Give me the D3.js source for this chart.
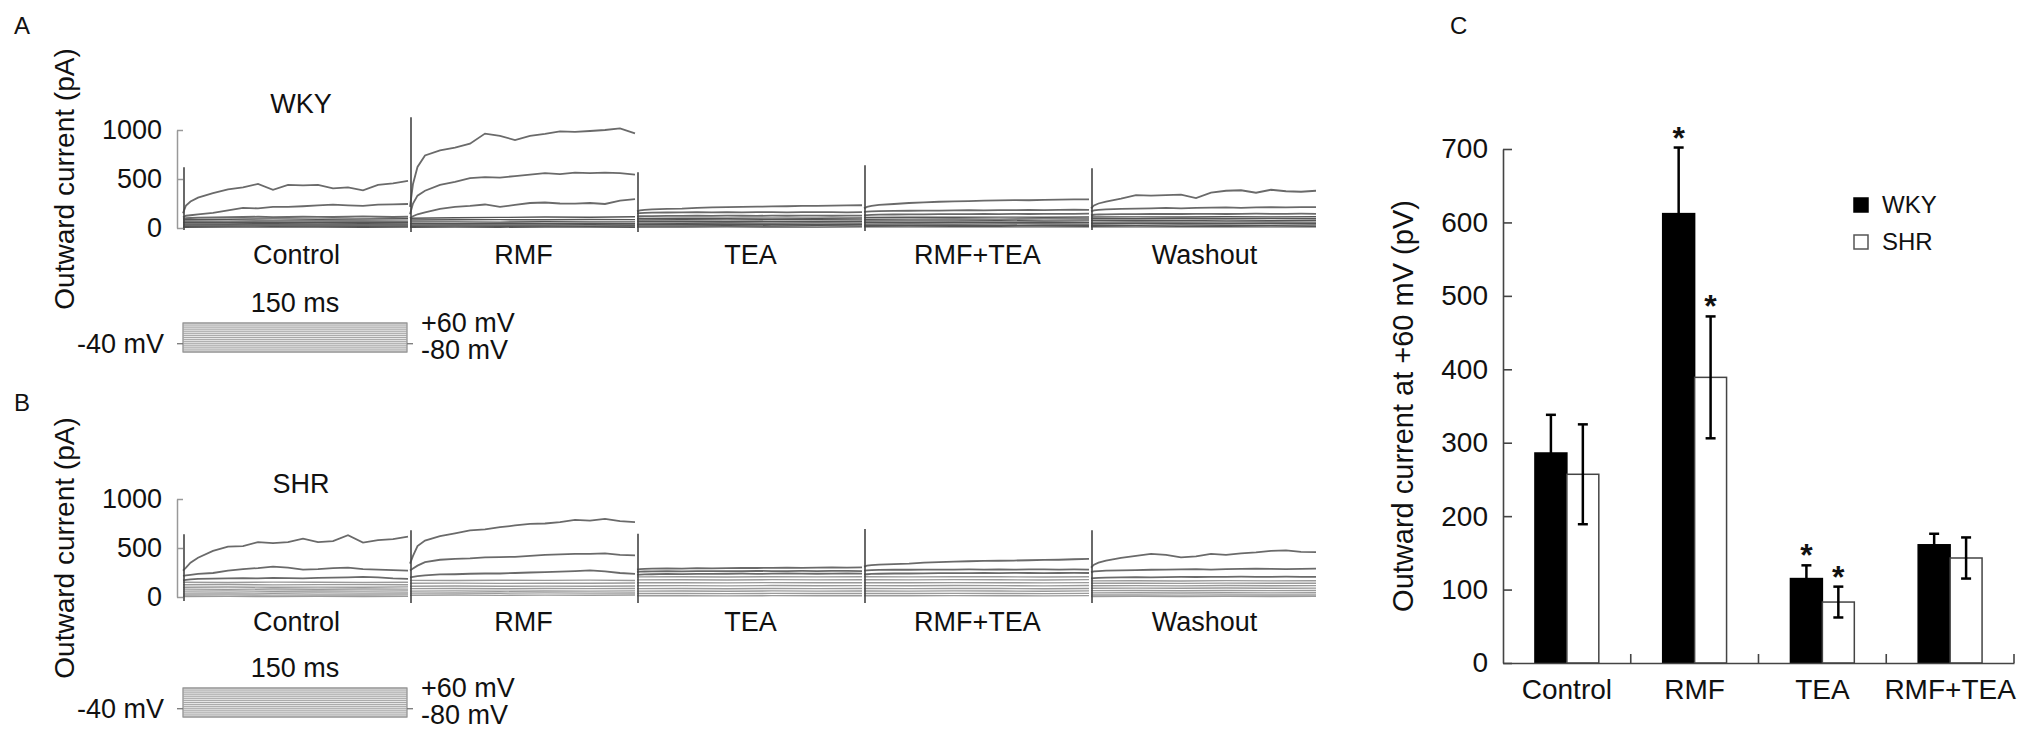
<!DOCTYPE html>
<html><head><meta charset="utf-8">
<script src="https://cdn.jsdelivr.net/npm/d3@7"></script>
<style>
body{margin:0;background:#fff;}
svg{display:block;}
text{font-family:"Liberation Sans",Arial,Helvetica,sans-serif;fill:#111;}
</style>
</head><body>
<svg id="fig" width="2032" height="744"></svg>
<script>
// ---------- Panels A & B : current traces ----------
const conditions = ["Control", "RMF", "TEA", "RMF+TEA", "Washout"];
const timeFine = [0, 2, 5, 10, 20, 30, 40, 50, 60, 70, 80, 90, 100, 110, 120, 130, 140, 150]; // ms
const timeCoarse = [0, 30, 60, 90, 120, 150]; // ms
const currentTicks = [0, 500, 1000]; // pA

// WKY (panel A)
const wkyControlMain = [
  [150,230,270,310,355,395,415,450,390,440,435,440,405,415,385,440,455,480],
  [110,125,130,140,155,180,205,200,215,215,222,230,238,230,225,238,242,245],
  [95,100,102,105,108,110,112,115,110,112,115,113,112,115,118,115,112,115]];
const wkyControlBand = [[88,90,93,90,92,94],[72,70,73,71,72,70],[56,55,58,55,57,56],[42,41,44,42,43,42],[30,32,30,31,30,32],[18,20,18,19,18,20],[8,10,9,10,8,10]];
const wkyRmfMain = [
  [215,450,623,740,793,820,860,963,940,898,940,960,985,980,990,1000,1017,966],
  [140,250,330,380,440,470,510,520,515,530,545,560,550,565,560,565,560,545],
  [100,120,140,160,195,215,225,240,215,235,255,260,250,248,255,245,280,295]];
const wkyRmfBand = [[100,105,108,112,110,115],[82,84,85,84,86,85],[62,63,60,64,62,63],[46,44,46,45,47,45],[31,32,31,30,33,31],[18,20,18,19,18,20],[8,9,8,10,9,8]];
const wkyTeaMain = [
  [170,180,185,190,195,198,205,210,212,215,218,220,222,225,225,228,230,232],
  [150,152,155,156,158,160,162,160,162,160,163,162,160,162,163,162,160,162],
  [118,120,121,122,123,124,125,124,126,125,124,126,125,127,126,125,126,127]];
const wkyTeaBand = [[98,100,99,101,100,102],[82,84,83,85,84,83],[65,66,64,66,65,67],[50,49,51,50,52,50],[36,35,37,36,35,37],[22,21,23,22,24,22],[10,9,11,10,9,11]];
const wkyRmfTeaMain = [
  [200,215,225,235,245,255,262,268,272,275,280,282,285,283,288,290,292,293],
  [165,168,170,172,175,176,178,178,180,182,180,183,182,185,183,185,186,185],
  [130,132,134,136,138,139,140,141,142,141,143,142,144,143,145,144,145,146]];
const wkyRmfTeaBand = [[108,110,109,111,110,112],[90,91,92,91,93,92],[72,73,71,74,72,73],[55,56,55,57,56,55],[40,41,40,42,41,40],[25,24,26,25,24,26],[12,11,13,12,11,13]];
const wkyWashoutMain = [
  [200,230,250,270,300,335,330,335,340,305,360,380,385,360,390,375,370,380],
  [170,180,185,190,195,198,200,205,200,205,208,210,205,210,212,210,212,214],
  [130,135,138,140,142,142,143,145,143,144,145,143,145,146,144,145,146,145]];
const wkyWashoutBand = [[112,114,113,115,114,116],[95,96,97,96,98,97],[78,79,77,80,78,79],[60,61,60,62,61,60],[44,45,44,46,45,44],[28,27,29,28,27,29],[12,11,13,12,11,13]];
const wkySpikeTop = [620, 1130, 570, 640, 610];
const wkySpikeBottom = [-20, -40, -40, -30, -20];

// SHR (panel B)
const shrControlMain = [
  [270,300,350,400,470,515,520,560,550,560,595,560,570,630,555,580,590,615],
  [215,220,225,235,245,270,285,295,310,300,280,285,295,300,285,280,275,270],
  [170,175,180,185,188,190,192,190,195,192,190,195,198,200,205,200,190,185]];
const shrControlBand = [[150,148,152,150,149,151],[125,127,124,126,128,125],[100,102,99,101,100,103],[80,78,81,79,82,80],[60,62,59,61,60,62],[40,41,39,42,40,41],[20,22,19,21,20,22],[5,6,4,6,5,6]];
const shrRmfMain = [
  [340,420,520,576,620,650,680,690,712,730,746,750,765,786,780,797,775,763],
  [270,290,320,356,380,390,395,405,407,410,420,430,434,440,441,445,430,424],
  [200,205,212,220,230,232,237,240,240,245,250,254,258,265,271,262,245,237]];
const shrRmfBand = [[170,168,171,170,172,169],[140,142,139,141,140,143],[110,112,109,111,110,112],[85,86,84,87,85,86],[60,62,59,61,60,62],[40,41,39,42,40,41],[18,20,17,19,18,20]];
const shrTeaMain = [
  [280,285,288,290,292,290,295,293,295,298,296,298,300,298,300,302,300,302],
  [255,258,260,262,263,262,265,264,265,263,266,265,264,266,265,267,266,265],
  [225,228,230,232,235,233,236,235,237,238,236,238,240,238,237,239,240,238]];
const shrTeaBand = [[205,206,204,207,205,206],[175,176,174,177,175,176],[145,146,144,147,145,146],[115,116,114,117,115,116],[85,86,84,87,85,86],[60,61,59,62,60,61],[35,36,34,37,35,36],[12,13,11,14,12,13]];
const shrRmfTeaMain = [
  [310,320,325,330,335,340,350,355,360,365,368,370,372,375,378,380,385,390],
  [270,272,275,276,278,278,280,279,280,281,280,282,280,281,282,280,281,280],
  [230,232,235,237,240,240,242,244,243,244,245,244,246,245,244,245,246,245]];
const shrRmfTeaBand = [[206,205,207,206,204,207],[176,175,177,176,174,177],[146,145,147,146,144,147],[116,115,117,116,114,117],[86,85,87,86,84,87],[61,60,62,61,59,62],[36,35,37,36,34,37],[13,12,14,13,11,14]];
const shrWashoutMain = [
  [300,330,350,370,400,420,440,430,405,415,440,430,445,455,470,475,460,458],
  [255,262,265,270,272,275,278,280,282,285,280,285,287,290,288,285,288,290],
  [190,192,195,198,200,202,200,203,205,204,206,205,207,206,205,207,206,205]];
const shrWashoutBand = [[165,166,164,167,165,166],[140,141,139,142,140,141],[115,116,114,117,115,116],[90,91,89,92,90,91],[65,66,64,67,65,66],[42,43,41,44,42,43],[20,21,19,22,20,21],[5,6,4,7,5,6]];
const shrSpikeTop = [640, 680, 645, 695, 680];
const shrSpikeBottom = [-40, -60, -60, -60, -60];

// voltage protocol
const voltageSteps = [-80,-70,-60,-50,-40,-30,-20,-10,0,10,20,30,40,50,60]; // mV
const holdingPotential = -40;
const stepDuration = [0, 150]; // ms

// ---------- Panel C : bar chart ----------
const barCategories = ["Control", "RMF", "TEA", "RMF+TEA"];
const barGroups = ["WKY", "SHR"];
const wkyMean = [286, 612, 115, 161];
const wkyErr = [52, 90, 18, 15];
const shrMean = [257, 389, 83, 143];
const shrErr = [68, 83, 21, 28];
const wkySig = [false, true, true, false];
const shrSig = [false, true, true, false];
const barTicks = [0, 100, 200, 300, 400, 500, 600, 700];

// ================= drawing =================
const svg = d3.select("#fig");
const FONT = 27;

function tracePanel(cfg) {
  const g = svg.append("g");
  const xSeg = d3.scaleBand().domain(conditions).range([183, 1318]).padding(0);
  const xT = d3.scaleLinear().domain([0, 150]).range([0, xSeg.bandwidth() - 2]);
  const y = d3.scaleLinear().domain([0, 1000]).range([cfg.y0, cfg.y0 - 98]);
  const line = d3.line().x(d => d[0]).y(d => y(d[1]));

  conditions.forEach((c, i) => {
    const ox = xSeg(c);
    cfg.band[i].forEach(tr => {
      g.append("path").attr("fill", "none").attr("stroke", cfg.bandColor)
        .attr("stroke-width", 1.4)
        .attr("d", line(tr.map((v, k) => [ox + xT(timeCoarse[k]), v])));
    });
    cfg.main[i].forEach(tr => {
      g.append("path").attr("fill", "none").attr("stroke", "#6a6a6a")
        .attr("stroke-width", 1.8)
        .attr("d", line(tr.map((v, k) => [ox + xT(timeFine[k]), v])));
    });
    g.append("line").attr("x1", ox + 1).attr("x2", ox + 1)
      .attr("y1", y(cfg.spikeBottom[i])).attr("y2", y(cfg.spikeTop[i]))
      .attr("stroke", "#444").attr("stroke-width", 1.6);
    g.append("text").attr("x", ox + xSeg.bandwidth() / 2).attr("y", cfg.labelY)
      .attr("text-anchor", "middle").attr("font-size", FONT).text(c);
  });

  const ax = g.append("g").attr("transform", `translate(177,0)`)
    .call(d3.axisLeft(y).tickValues(currentTicks).tickFormat(d3.format("d"))
      .tickSizeInner(-6).tickSizeOuter(0).tickPadding(15));
  ax.select(".domain").attr("stroke", "#999").attr("stroke-width", 1.5);
  ax.selectAll(".tick line").attr("stroke", "#999").attr("stroke-width", 1.5);
  ax.selectAll(".tick text").attr("font-size", FONT).attr("fill", "#111")
    .style("font-family", '"Liberation Sans",Arial,sans-serif');

  g.append("text").attr("x", 301).attr("y", cfg.titleY).attr("text-anchor", "middle")
    .attr("font-size", FONT).text(cfg.title);
  g.append("text").attr("transform", `translate(74,${cfg.y0 - 49}) rotate(-90)`)
    .attr("text-anchor", "middle").attr("font-size", 28).text("Outward current (pA)");
  g.append("text").attr("x", 14).attr("y", cfg.letterY).attr("font-size", 24).text(cfg.letter);

  const xV = d3.scaleLinear().domain(stepDuration).range([183, 407]);
  const yV = d3.scaleLinear().domain([-80, 60]).range([cfg.v0, cfg.v0 - 29]);
  g.append("rect").attr("x", xV(0)).attr("y", yV(60)).attr("width", xV(150) - xV(0))
    .attr("height", yV(-80) - yV(60)).attr("fill", "#e6e6e6").attr("stroke", "#8a8a8a").attr("stroke-width", 1.2);
  voltageSteps.forEach(v => {
    g.append("line").attr("x1", xV(0)).attr("x2", xV(150)).attr("y1", yV(v)).attr("y2", yV(v))
      .attr("stroke", "#a0a0a0").attr("stroke-width", 0.9);
  });
  [[xV(0) - 6, xV(0)], [xV(150), xV(150) + 6]].forEach(p => {
    g.append("line").attr("x1", p[0]).attr("x2", p[1]).attr("y1", yV(holdingPotential)).attr("y2", yV(holdingPotential))
      .attr("stroke", "#777").attr("stroke-width", 1.3);
  });
  g.append("text").attr("x", 295).attr("y", cfg.v0 - 40).attr("text-anchor", "middle").attr("font-size", FONT).text("150 ms");
  g.append("text").attr("x", 421).attr("y", cfg.v0 - 20).attr("font-size", FONT).text("+60 mV");
  g.append("text").attr("x", 421).attr("y", cfg.v0 + 7).attr("font-size", FONT).text("-80 mV");
  g.append("text").attr("x", 164).attr("y", cfg.v0 + 1).attr("text-anchor", "end").attr("font-size", FONT).text("-40 mV");
}

tracePanel({
  y0: 228, labelY: 264, titleY: 113, title: "WKY", letter: "A", letterY: 34, v0: 352,
  bandColor: "#555",
  main: [wkyControlMain, wkyRmfMain, wkyTeaMain, wkyRmfTeaMain, wkyWashoutMain],
  band: [wkyControlBand, wkyRmfBand, wkyTeaBand, wkyRmfTeaBand, wkyWashoutBand],
  spikeTop: wkySpikeTop, spikeBottom: wkySpikeBottom
});
tracePanel({
  y0: 597, labelY: 631, titleY: 493, title: "SHR", letter: "B", letterY: 411, v0: 717,
  bandColor: "#9a9a9a",
  main: [shrControlMain, shrRmfMain, shrTeaMain, shrRmfTeaMain, shrWashoutMain],
  band: [shrControlBand, shrRmfBand, shrTeaBand, shrRmfTeaBand, shrWashoutBand],
  spikeTop: shrSpikeTop, spikeBottom: shrSpikeBottom
});

// ---------- Panel C ----------
(function () {
  const g = svg.append("g");
  const X0 = 1503, X1 = 2014, Y0 = 663, Y1 = 149;
  const x0 = d3.scaleBand().domain(barCategories).range([X0, X1]).padding(0);
  const x1 = d3.scaleBand().domain(barGroups).range([0, x0.bandwidth()]).paddingInner(0).paddingOuter(1);
  const y = d3.scaleLinear().domain([0, 700]).range([Y0, Y1]);

  const rows = barCategories.map((c, i) => ({
    c, vals: [
      { g: "WKY", m: wkyMean[i], e: wkyErr[i], s: wkySig[i] },
      { g: "SHR", m: shrMean[i], e: shrErr[i], s: shrSig[i] }]
  }));

  const grp = g.selectAll(".cat").data(rows).enter().append("g")
    .attr("transform", d => `translate(${x0(d.c)},0)`);
  grp.selectAll("rect").data(d => d.vals).enter().append("rect")
    .attr("x", d => x1(d.g)).attr("width", x1.bandwidth())
    .attr("y", d => y(d.m)).attr("height", d => y(0) - y(d.m))
    .attr("fill", d => d.g === "WKY" ? "#000" : "#fff")
    .attr("stroke", d => d.g === "WKY" ? "#000" : "#444").attr("stroke-width", 1.5);
  const eb = grp.selectAll(".eb").data(d => d.vals).enter().append("g");
  eb.append("line").attr("x1", d => x1(d.g) + x1.bandwidth() / 2).attr("x2", d => x1(d.g) + x1.bandwidth() / 2)
    .attr("y1", d => y(d.m - d.e)).attr("y2", d => y(d.m + d.e)).attr("stroke", "#000").attr("stroke-width", 2.5);
  [1, -1].forEach(sgn => {
    eb.append("line").attr("x1", d => x1(d.g) + x1.bandwidth() / 2 - 5).attr("x2", d => x1(d.g) + x1.bandwidth() / 2 + 5)
      .attr("y1", d => y(d.m + sgn * d.e)).attr("y2", d => y(d.m + sgn * d.e)).attr("stroke", "#000").attr("stroke-width", 2.5);
  });
  eb.filter(d => d.s).append("text").attr("x", d => x1(d.g) + x1.bandwidth() / 2)
    .attr("y", d => y(d.m + d.e) + 1).attr("text-anchor", "middle")
    .attr("font-size", 32).attr("font-weight", "bold").text("*");

  const ay = g.append("g").attr("transform", `translate(${X0},0)`)
    .call(d3.axisLeft(y).tickValues(barTicks).tickSizeInner(-9).tickSizeOuter(0).tickPadding(15));
  ay.select(".domain").attr("stroke", "#444").attr("stroke-width", 1.6);
  ay.selectAll(".tick line").attr("stroke", "#444").attr("stroke-width", 1.6);
  ay.selectAll(".tick text").attr("font-size", 28).attr("fill", "#111")
    .style("font-family", '"Liberation Sans",Arial,sans-serif');

  const axx = g.append("g").attr("transform", `translate(0,${Y0})`)
    .call(d3.axisBottom(x0).tickSize(0).tickPadding(16));
  axx.select(".domain").attr("stroke", "#444").attr("stroke-width", 1.6);
  axx.selectAll(".tick text").attr("font-size", 28).attr("fill", "#111")
    .style("font-family", '"Liberation Sans",Arial,sans-serif');
  g.selectAll(".xt").data(barCategories).enter().append("line")
    .attr("x1", d => x0(d) + x0.bandwidth()).attr("x2", d => x0(d) + x0.bandwidth())
    .attr("y1", Y0).attr("y2", Y0 - 9).attr("stroke", "#444").attr("stroke-width", 1.6);

  g.append("text").attr("transform", `translate(1413,${(Y0 + Y1) / 2}) rotate(-90)`)
    .attr("text-anchor", "middle").attr("font-size", 29).text("Outward current at +60 mV (pV)");
  g.append("text").attr("x", 1450).attr("y", 34).attr("font-size", 24).text("C");

  const lg = g.selectAll(".lg").data(barGroups).enter().append("g")
    .attr("transform", (d, i) => `translate(1854,${198 + i * 37})`);
  lg.append("rect").attr("width", 14).attr("height", 14)
    .attr("fill", d => d === "WKY" ? "#000" : "#fff").attr("stroke", d => d === "WKY" ? "#000" : "#555").attr("stroke-width", 1.5);
  lg.append("text").attr("x", 28).attr("y", 15).attr("font-size", 24).text(d => d);
})();
</script>
</body></html>
